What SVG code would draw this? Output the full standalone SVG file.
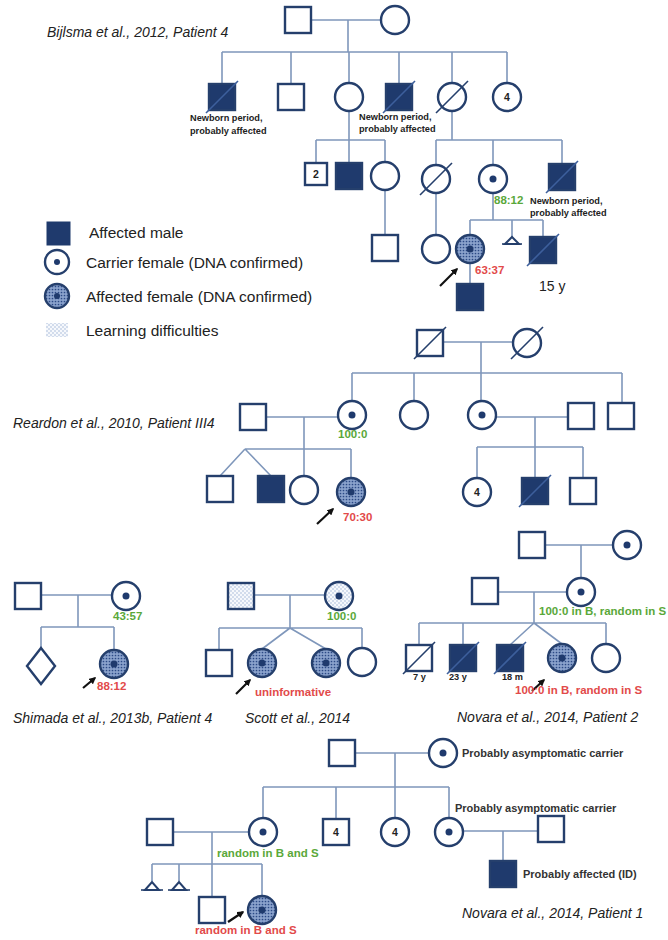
<svg xmlns="http://www.w3.org/2000/svg" width="668" height="940" viewBox="0 0 668 940">
<style>
.ln{stroke:#7f97bb;stroke-width:1.6;fill:none}
.nd{stroke:#253f6c;stroke-width:2.4;fill:#fff}
.af{fill:#1f3a6d}
.fe{fill:url(#aff)}
.ld{fill:url(#ldp)}
.dot{fill:#1f3a6d;stroke:none}
.sl{stroke:#253f6c;stroke-width:1.6}
.slf{stroke:#3d5f9c;stroke-width:1.6}
text{font-family:"Liberation Sans",Arial,sans-serif}
.ttl{font-style:italic;font-size:14px;fill:#222}
.sm{font-size:9.2px;fill:#222;font-weight:bold}
.g{font-size:11.5px;font-weight:bold;fill:#5aa83a}
.r{font-size:11.5px;font-weight:bold;fill:#e24a4a}
.lg{font-size:15.5px;fill:#222}
.nm{font-size:10.5px;fill:#222;font-weight:bold;text-anchor:middle}
.pc{font-size:11px;fill:#333;font-weight:bold}
.ar{stroke:#111;stroke-width:2.2;marker-end:url(#ah)}
</style>
<defs>
<pattern id="aff" width="3" height="3" patternUnits="userSpaceOnUse">
<rect width="3" height="3" fill="#8aa2cc"/>
<circle cx="1.5" cy="1.5" r="0.85" fill="#2c4a86"/>
</pattern>
<pattern id="ldp" width="4" height="4" patternUnits="userSpaceOnUse">
<rect width="4" height="4" fill="#f6f8fc"/>
<circle cx="1" cy="1" r="0.75" fill="#9db2d6"/>
<circle cx="3" cy="3" r="0.75" fill="#9db2d6"/>
</pattern>
<marker id="ah" viewBox="0 0 10 10" refX="8" refY="5" markerWidth="3.2" markerHeight="3.2" orient="auto">
<path d="M0,0 L10,5 L0,10 Z" fill="#111"/>
</marker>
</defs>
<rect width="668" height="940" fill="#fff"/>

<g id="connectors">
<!-- Bijlsma -->
<path class="ln" d="M311 20 H381 M348 20 V52 M222 52 H507 M222 52 V84 M291 52 V84 M349 52 V83 M399 52 V84 M452 52 V83 M507 52 V83"/>
<path class="ln" d="M349 111 V140 M316 140 H385 M316 140 V163 M349 140 V163 M385 140 V162 M385 190 V235"/>
<path class="ln" d="M452 111 V140 M436 140 H562 M436 140 V165 M493 140 V165 M562 140 V164 M493 193 V220 M470 220 H543 M470 220 V235 M512 220 V237 M543 220 V237 M436 193 V235 M470 263 V284"/>
<!-- Reardon -->
<path class="ln" d="M443 342 H513 M481 342 V373 M352 373 H622 M352 373 V401 M414 373 V401 M481 373 V401 M622 373 V402"/>
<path class="ln" d="M266 417 H338 M304 417 V476 M245 449 H351 M351 449 V478 M245 449 L220 476 M245 449 L271 476"/>
<path class="ln" d="M496 417 H568 M535 417 V447 M477 447 H583 M477 447 V478 M535 447 V478 M583 447 V478"/>
<!-- Shimada -->
<path class="ln" d="M41 595 H112 M78 595 V627 M41 627 H114 M41 627 V648 M114 627 V650"/>
<!-- Scott -->
<path class="ln" d="M254 595 H325 M290 595 V628 M219 628 H362 M219 628 V650 M290 628 L262 649 M290 628 L326 649 M362 628 V648"/>
<!-- Novara 2 -->
<path class="ln" d="M545 545 H613 M581 545 V578 M498 592 H567 M534 592 V623 M419 623 H606 M419 623 V645 M463 623 V645 M534 623 L510 645 M534 623 L562 644 M606 623 V644"/>
<!-- Novara 1 -->
<path class="ln" d="M356 753 H429 M395 753 V787 M263 787 H449 M263 787 V818 M336 787 V819 M395 787 V818 M449 787 V818"/>
<path class="ln" d="M463 831 H538 M503 831 V861 M173 832 H249 M212 832 V897 M152 864 H262 M152 864 V881 M179 864 V881 M262 864 V896"/>
<!-- arrows -->
<line class="ar" x1="440" y1="286" x2="457" y2="269"/>
<line class="ar" x1="317" y1="524" x2="333" y2="509"/>
<line class="ar" x1="83" y1="688" x2="95" y2="678"/>
<line class="ar" x1="236" y1="694" x2="250" y2="680"/>
<line class="ar" x1="532" y1="691" x2="544" y2="680"/>
<line class="ar" x1="228" y1="922" x2="243" y2="912"/>
</g>

<!-- ===== Bijlsma ===== -->
<text class="ttl" x="47" y="37">Bijlsma et al., 2012, Patient 4</text>
<g id="b-I1"><rect class="nd" x="285" y="7" width="26" height="26"/></g>
<g id="b-I2"><circle class="nd" cx="395" cy="20" r="14"/></g>
<g id="b-II1"><rect class="nd af" x="209" y="84" width="26" height="26"/><line class="slf" x1="206" y1="113" x2="238" y2="81"/>
<text class="sm" x="190" y="121">Newborn period,</text><text class="sm" x="190" y="134">probably affected</text></g>
<g id="b-II2"><rect class="nd" x="278" y="84" width="26" height="26"/></g>
<g id="b-II3"><circle class="nd" cx="349" cy="97" r="14"/></g>
<g id="b-II4"><rect class="nd af" x="386" y="84" width="26" height="26"/><line class="slf" x1="383" y1="113" x2="415" y2="81"/>
<text class="sm" x="359" y="120">Newborn period,</text><text class="sm" x="359" y="132">probably affected</text></g>
<g id="b-II5"><circle class="nd" cx="452" cy="97" r="14"/><line class="sl" x1="436" y1="113" x2="468" y2="81"/></g>
<g id="b-II6"><circle class="nd" cx="507" cy="97" r="14"/><text class="nm" x="507" y="101">4</text></g>
<g id="b-III1"><rect class="nd" x="305" y="163" width="22" height="22"/><text class="nm" x="316" y="178">2</text></g>
<g id="b-III2"><rect class="nd af" x="336" y="163" width="26" height="26"/></g>
<g id="b-III3"><circle class="nd" cx="385" cy="176" r="14"/></g>
<g id="b-IV1"><rect class="nd" x="372" y="235" width="26" height="26"/></g>
<g id="b-III4"><circle class="nd" cx="436" cy="179" r="14"/><line class="sl" x1="420" y1="195" x2="452" y2="163"/></g>
<g id="b-III5"><circle class="nd" cx="493" cy="179" r="14"/><circle class="dot" cx="493" cy="179" r="3.5"/><text class="g" x="494" y="204">88:12</text></g>
<g id="b-III6"><rect class="nd af" x="549" y="164" width="26" height="26"/><line class="slf" x1="546" y1="193" x2="578" y2="161"/>
<text class="sm" x="530" y="204">Newborn period,</text><text class="sm" x="530" y="216">probably affected</text></g>
<g id="b-IV2"><circle class="nd" cx="436" cy="249" r="14"/></g>
<g id="b-IV3"><circle class="nd fe" cx="470" cy="249" r="14"/><circle class="dot" cx="470" cy="249" r="3.5"/><text class="r" x="475" y="274">63:37</text></g>
<g id="b-IV4"><path class="nd" style="stroke-width:2" d="M505 244 L512 237 L519 244 Z"/><line class="sl" x1="502" y1="244" x2="522" y2="244"/></g>
<g id="b-IV5"><rect class="nd af" x="530" y="237" width="26" height="26"/><line class="slf" x1="527" y1="266" x2="559" y2="234"/><text x="539" y="291" style="font-size:14px;fill:#222">15 y</text></g>
<g id="b-V1"><rect class="nd af" x="457" y="284" width="26" height="26"/></g>

<!-- ===== Legend ===== -->
<g id="legend">
<rect class="af" x="47" y="222" width="23" height="23" style="stroke:#1f3a6d;stroke-width:1"/>
<text class="lg" x="89" y="238">Affected  male</text>
<circle class="nd" cx="57" cy="262" r="12"/><circle class="dot" cx="57" cy="262" r="3"/>
<text class="lg" x="86" y="268">Carrier female (DNA confirmed)</text>
<circle class="nd fe" cx="57" cy="296" r="12"/><circle class="dot" cx="57" cy="296" r="3"/>
<text class="lg" x="86" y="302">Affected female (DNA confirmed)</text>
<rect class="ld" x="46" y="323" width="22" height="14"/>
<text class="lg" x="86" y="336">Learning difficulties</text>
</g>

<!-- ===== Reardon ===== -->
<text class="ttl" x="13" y="428">Reardon et al., 2010, Patient III4</text>
<g id="r-I1"><rect class="nd" x="417" y="330" width="26" height="26"/><line class="sl" x1="414" y1="359" x2="446" y2="327"/></g>
<g id="r-I2"><circle class="nd" cx="527" cy="343" r="14"/><line class="sl" x1="511" y1="359" x2="543" y2="327"/></g>
<g id="r-II1"><rect class="nd" x="240" y="404" width="26" height="26"/></g>
<g id="r-II2"><circle class="nd" cx="352" cy="415" r="14"/><circle class="dot" cx="352" cy="415" r="3.5"/><text class="g" x="338" y="438">100:0</text></g>
<g id="r-II3"><circle class="nd" cx="414" cy="415" r="14"/></g>
<g id="r-II4"><circle class="nd" cx="482" cy="415" r="14"/><circle class="dot" cx="482" cy="415" r="3.5"/></g>
<g id="r-II5"><rect class="nd" x="568" y="403" width="26" height="26"/></g>
<g id="r-II6"><rect class="nd" x="608" y="403" width="26" height="26"/></g>
<g id="r-III1"><rect class="nd" x="207" y="476" width="26" height="26"/></g>
<g id="r-III2"><rect class="nd af" x="258" y="476" width="26" height="26"/></g>
<g id="r-III3"><circle class="nd" cx="304" cy="490" r="14"/></g>
<g id="r-III4"><circle class="nd fe" cx="351" cy="492" r="14"/><circle class="dot" cx="351" cy="492" r="3.5"/><text class="r" x="343" y="521">70:30</text></g>
<g id="r-III5"><circle class="nd" cx="477" cy="492" r="14"/><text class="nm" x="477" y="496">4</text></g>
<g id="r-III6"><rect class="nd af" x="522" y="478" width="26" height="26"/><line class="slf" x1="519" y1="507" x2="551" y2="475"/></g>
<g id="r-III7"><rect class="nd" x="570" y="478" width="26" height="26"/></g>

<!-- ===== Shimada ===== -->
<text class="ttl" x="13" y="723">Shimada et al., 2013b, Patient 4</text>
<g id="s-I1"><rect class="nd" x="15" y="583" width="26" height="26"/></g>
<g id="s-I2"><circle class="nd" cx="126" cy="596" r="14"/><circle class="dot" cx="126" cy="596" r="3.5"/><text class="g" x="113" y="620">43:57</text></g>
<g id="s-II1"><polygon class="nd" points="41,648 55,666 41,684 27,666"/></g>
<g id="s-II2"><circle class="nd fe" cx="114" cy="664" r="14"/><circle class="dot" cx="114" cy="664" r="3.5"/><text class="r" x="97" y="690">88:12</text></g>

<!-- ===== Scott ===== -->
<text class="ttl" x="245" y="723">Scott et al., 2014</text>
<g id="sc-I1"><rect class="nd ld" x="228" y="583" width="26" height="26"/></g>
<g id="sc-I2"><circle class="nd ld" cx="339" cy="596" r="14"/><circle class="dot" cx="339" cy="596" r="3.5"/><text class="g" x="327" y="620">100:0</text></g>
<g id="sc-II1"><rect class="nd" x="206" y="650" width="26" height="26"/></g>
<g id="sc-II2"><circle class="nd fe" cx="262" cy="663" r="14"/><circle class="dot" cx="262" cy="663" r="3.5"/><text class="r" x="255" y="696">uninformative</text></g>
<g id="sc-II3"><circle class="nd fe" cx="326" cy="663" r="14"/><circle class="dot" cx="326" cy="663" r="3.5"/></g>
<g id="sc-II4"><circle class="nd" cx="362" cy="662" r="14"/></g>

<!-- ===== Novara 2 ===== -->
<text class="ttl" x="457" y="722">Novara et al., 2014, Patient 2</text>
<g id="n2-I1"><rect class="nd" x="519" y="532" width="26" height="26"/></g>
<g id="n2-I2"><circle class="nd" cx="627" cy="545" r="14"/><circle class="dot" cx="627" cy="545" r="3.5"/></g>
<g id="n2-II1"><rect class="nd" x="472" y="578" width="26" height="26"/></g>
<g id="n2-II2"><circle class="nd" cx="581" cy="592" r="14"/><circle class="dot" cx="581" cy="592" r="3.5"/><text class="g" x="539" y="615">100:0 in B, random in S</text></g>
<g id="n2-III1"><rect class="nd" x="406" y="645" width="26" height="26"/><line class="sl" x1="403" y1="674" x2="435" y2="642"/><text class="sm" x="413" y="680">7 y</text></g>
<g id="n2-III2"><rect class="nd af" x="450" y="645" width="26" height="26"/><line class="slf" x1="447" y1="674" x2="479" y2="642"/><text class="sm" x="449" y="680">23 y</text></g>
<g id="n2-III3"><rect class="nd af" x="497" y="645" width="26" height="26"/><line class="slf" x1="494" y1="674" x2="526" y2="642"/><text class="sm" x="502" y="680">18 m</text></g>
<g id="n2-III4"><circle class="nd fe" cx="562" cy="658" r="14"/><circle class="dot" cx="562" cy="658" r="3.5"/><text class="r" x="515" y="694">100:0 in B, random in S</text></g>
<g id="n2-III5"><circle class="nd" cx="606" cy="658" r="14"/></g>

<!-- ===== Novara 1 ===== -->
<text class="ttl" x="462" y="918">Novara et al., 2014, Patient 1</text>
<g id="n1-I1"><rect class="nd" x="329" y="740" width="26" height="26"/></g>
<g id="n1-I2"><circle class="nd" cx="443" cy="753" r="14"/><circle class="dot" cx="443" cy="753" r="3.5"/><text class="pc" x="462" y="757">Probably asymptomatic carrier</text></g>
<g id="n1-II1"><rect class="nd" x="147" y="819" width="26" height="26"/></g>
<g id="n1-II2"><circle class="nd" cx="263" cy="832" r="14"/><circle class="dot" cx="263" cy="832" r="3.5"/><text class="g" x="217" y="857">random in B and S</text></g>
<g id="n1-II3"><rect class="nd" x="323" y="819" width="26" height="26"/><text class="nm" x="336" y="836">4</text></g>
<g id="n1-II4"><circle class="nd" cx="395" cy="832" r="14"/><text class="nm" x="395" y="836">4</text></g>
<g id="n1-II5"><circle class="nd" cx="449" cy="832" r="14"/><circle class="dot" cx="449" cy="832" r="3.5"/><text class="pc" x="455" y="812">Probably asymptomatic carrier</text></g>
<g id="n1-II6"><rect class="nd" x="538" y="816" width="26" height="26"/></g>
<g id="n1-III1"><rect class="nd af" x="490" y="861" width="26" height="26"/><text class="pc" x="523" y="878">Probably affected (ID)</text></g>
<g id="n1-III2"><path class="nd" style="stroke-width:2" d="M145 890 L152 882 L159 890 Z"/><line class="sl" x1="141" y1="890" x2="163" y2="890"/></g>
<g id="n1-III3"><path class="nd" style="stroke-width:2" d="M172 890 L179 882 L186 890 Z"/><line class="sl" x1="168" y1="890" x2="190" y2="890"/></g>
<g id="n1-III4"><rect class="nd" x="199" y="897" width="26" height="26"/></g>
<g id="n1-III5"><circle class="nd fe" cx="262" cy="910" r="14"/><circle class="dot" cx="262" cy="910" r="3.5"/><text class="r" x="195" y="934">random in B and S</text></g>
</svg>
